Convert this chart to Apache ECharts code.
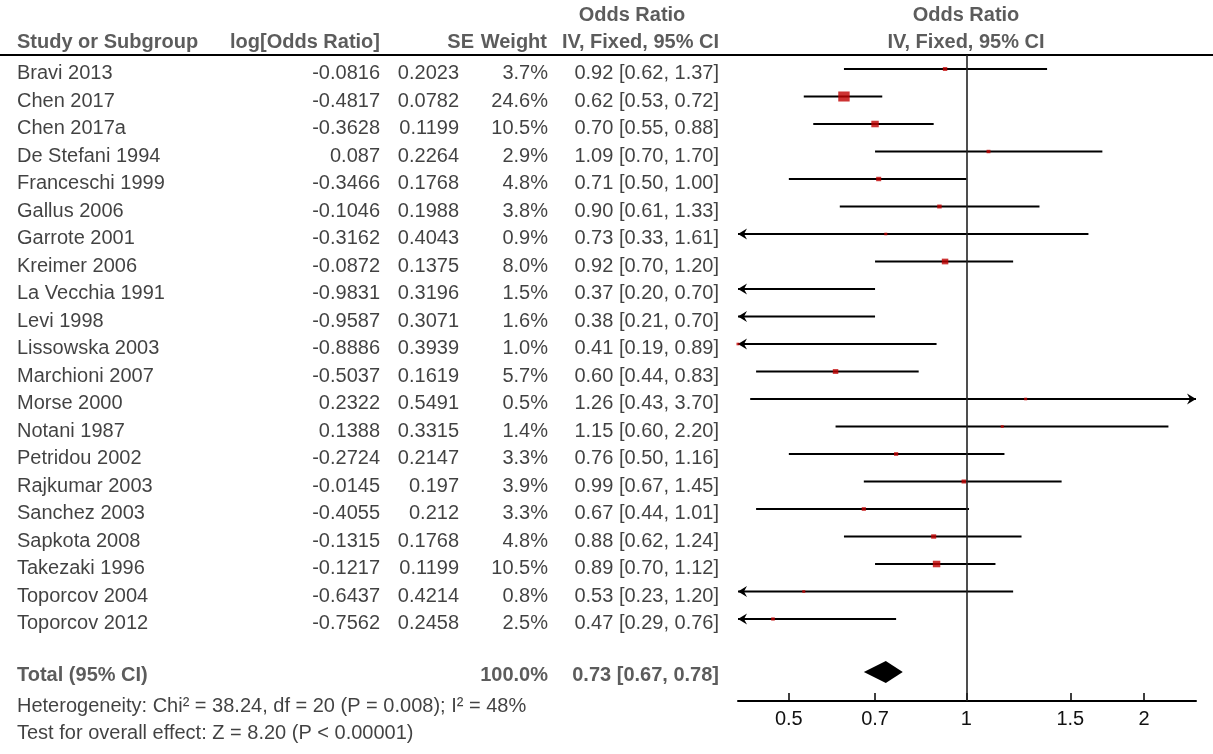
<!DOCTYPE html>
<html><head><meta charset="utf-8">
<script src="https://cdn.jsdelivr.net/npm/echarts@6/dist/echarts.min.js"></script>
<style>html,body{margin:0;padding:0;background:#fff}#c{width:1213px;height:754px}</style>
</head><body><div id="c"></div>
<script>
const studies = ['Bravi 2013','Chen 2017','Chen 2017a','De Stefani 1994','Franceschi 1999','Gallus 2006','Garrote 2001','Kreimer 2006','La Vecchia 1991','Levi 1998','Lissowska 2003','Marchioni 2007','Morse 2000','Notani 1987','Petridou 2002','Rajkumar 2003','Sanchez 2003','Sapkota 2008','Takezaki 1996','Toporcov 2004','Toporcov 2012'];
const logOR = [-0.0816,-0.4817,-0.3628,0.087,-0.3466,-0.1046,-0.3162,-0.0872,-0.9831,-0.9587,-0.8886,-0.5037,0.2322,0.1388,-0.2724,-0.0145,-0.4055,-0.1315,-0.1217,-0.6437,-0.7562];
const se = [0.2023,0.0782,0.1199,0.2264,0.1768,0.1988,0.4043,0.1375,0.3196,0.3071,0.3939,0.1619,0.5491,0.3315,0.2147,0.197,0.212,0.1768,0.1199,0.4214,0.2458];
const weight = [3.7,24.6,10.5,2.9,4.8,3.8,0.9,8.0,1.5,1.6,1.0,5.7,0.5,1.4,3.3,3.9,3.3,4.8,10.5,0.8,2.5];
const oddsRatio = [0.92,0.62,0.70,1.09,0.71,0.90,0.73,0.92,0.37,0.38,0.41,0.60,1.26,1.15,0.76,0.99,0.67,0.88,0.89,0.53,0.47];
const ciLow = [0.62,0.53,0.55,0.70,0.50,0.61,0.33,0.70,0.20,0.21,0.19,0.44,0.43,0.60,0.50,0.67,0.44,0.62,0.70,0.23,0.29];
const ciHigh = [1.37,0.72,0.88,1.70,1.00,1.33,1.61,1.20,0.70,0.70,0.89,0.83,3.70,2.20,1.16,1.45,1.01,1.24,1.12,1.20,0.76];
const total = {label:'Total (95% CI)', weight:100.0, or:0.73, low:0.67, high:0.78};
const heterogeneityText = 'Heterogeneity: Chi\u00B2 = 38.24, df = 20 (P = 0.008); I\u00B2 = 48%';
const overallText = 'Test for overall effect: Z = 8.20 (P < 0.00001)';
const axisTicks = [0.5, 0.7, 1, 1.5, 2];
const axisTickLabels = ['0.5','0.7','1','1.5','2'];
const headers = {study:'Study or Subgroup', logOR:'log[Odds Ratio]', se:'SE', weight:'Weight', or1:'Odds Ratio', or2:'IV, Fixed, 95% CI'};

const FONT = "'Liberation Sans', Arial, sans-serif";
const XMIN = 0.41, XMAX = 2.45;
const ROW0 = 69, STEP = 27.5;          // pixel of row 0 line, row spacing
const H = 754;
const idx = px => (px - ROW0) / STEP;   // pixel -> row index
const TOTAL_ROW = idx(672);

const fmt2 = v => v.toFixed(2);
const ciText = (o,l,h) => fmt2(o) + ' [' + fmt2(l) + ', ' + fmt2(h) + ']';

const TXT = 4.5/STEP;
function col(rows, pos, bold, color) {
  return {
    type:'scatter', xAxisIndex:1, yAxisIndex:1, symbolSize:0, silent:true, animation:false,
    data: rows,
    label:{show:true, position:pos, distance:0, formatter:p=>p.value[2],
      fontFamily:FONT, fontSize:20, fontWeight: bold?'bold':'normal', color: color || (bold?'#333':'#111')}
  };
}
const rowsY = studies.map((s,i)=> i + TXT);
const series = [];
series.push(col(studies.map((s,i)=>[17, rowsY[i], s]), 'right'));
series.push(col(logOR.map((v,i)=>[380, rowsY[i], String(v)]), 'left'));
series.push(col(se.map((v,i)=>[459, rowsY[i], String(v)]), 'left'));
series.push(col(weight.map((v,i)=>[548, rowsY[i], v.toFixed(1)+'%']), 'left'));
series.push(col(oddsRatio.map((v,i)=>[719, rowsY[i], ciText(v, ciLow[i], ciHigh[i])]), 'left'));
// headers
series.push(col([[17, idx(42), headers.study]], 'right', true));
series.push(col([[380, idx(42), headers.logOR],[474, idx(42), headers.se],[547, idx(42), headers.weight],[719, idx(42), headers.or2]], 'left', true));
series.push(col([[632, idx(15), headers.or1],[966, idx(15), headers.or1],[966, idx(42), headers.or2]], 'inside', true));
// total + footer
series.push(col([[17, idx(675), total.label]], 'right', true));
series.push(col([[548, idx(675), total.weight.toFixed(1)+'%'],[719, idx(675), ciText(total.or, total.low, total.high)]], 'left', true));
series.push(col([[17, idx(706), heterogeneityText],[17, idx(733), overallText]], 'right', false));

// CI lines with arrows
series.push({
  type:'custom', xAxisIndex:0, yAxisIndex:0, silent:true, animation:false, clip:false,
  data: studies.map((s,i)=>[i, ciLow[i], ciHigh[i]]),
  encode:{x:[1,2], y:0},
  renderItem:(params, api)=>{
    const i = api.value(0), lo = api.value(1), hi = api.value(2);
    const a = api.coord([Math.max(lo, XMIN), i]);
    const b = api.coord([Math.min(hi, XMAX), i]);
    const y = a[1];
    const ch = [{type:'line', shape:{x1:a[0], y1:y, x2:b[0], y2:y}, style:{stroke:'#000', lineWidth:2}}];
    if (lo < XMIN) ch.push({type:'polygon', shape:{points:[[a[0],y],[a[0]+9,y-5.5],[a[0]+6,y],[a[0]+9,y+5.5]]}, style:{fill:'#000'}});
    if (hi > XMAX) ch.push({type:'polygon', shape:{points:[[b[0],y],[b[0]-9,y-5.5],[b[0]-6,y],[b[0]-9,y+5.5]]}, style:{fill:'#000'}});
    return {type:'group', children:ch};
  }
});
// squares
series.push({
  type:'scatter', xAxisIndex:0, yAxisIndex:0, silent:true, animation:false, clip:true,
  symbol:'rect', z:3,
  data: oddsRatio.map((v,i)=>{const s=Math.max(3, 2.3*Math.sqrt(weight[i])); return {value:[v, i], symbolSize:[s, Math.max(2.5, s*0.88)]};}),
  itemStyle:{color:'#c00000'},
  markLine:{silent:true, symbol:'none', animation:false, label:{show:false},
    lineStyle:{color:'#222', width:1.6, type:'solid'}, data:[{xAxis:1}]}
});
// diamond
series.push({
  type:'custom', xAxisIndex:0, yAxisIndex:0, silent:true, animation:false, clip:false,
  data:[[total.low, total.or, total.high, TOTAL_ROW]],
  encode:{x:[0,1,2], y:3},
  renderItem:(params, api)=>{
    const r = api.value(3);
    const l = api.coord([api.value(0), r]), c = api.coord([api.value(1), r]), h = api.coord([api.value(2), r]);
    const hh = 11;
    return {type:'polygon', shape:{points:[[l[0], l[1]],[c[0], c[1]-hh],[h[0], h[1]],[c[0], c[1]+hh]]}, style:{fill:'#000'}};
  }
});

const option = {
  backgroundColor:'#fff',
  animation:false,
  grid:[
    {left:738, right:17, top:55, bottom:H-701},
    {left:0, right:0, top:0, bottom:0}
  ],
  xAxis:[
    {type:'log', logBase:10, gridIndex:0, min:XMIN, max:XMAX, position:'bottom',
      axisLine:{show:true, onZero:false, lineStyle:{color:'#000', width:2}},
      axisTick:{show:true, inside:true, length:8, lineStyle:{color:'#000', width:1.5}, customValues:axisTicks},
      axisLabel:{show:true, customValues:axisTicks, margin:8, fontFamily:FONT, fontSize:20, color:'#111',
        formatter:v=>{const k = axisTicks.findIndex(t=>Math.abs(t-v)<1e-6); return k>=0?axisTickLabels[k]:'';}},
      splitLine:{show:false}, minorTick:{show:false}},
    {type:'value', gridIndex:1, min:0, max:1213, show:false}
  ],
  yAxis:[
    {type:'value', gridIndex:0, min:idx(55), max:idx(701), inverse:true, show:false},
    {type:'value', gridIndex:1, min:idx(0), max:idx(H), inverse:true, show:false}
  ],
  graphic:[{type:'line', silent:true, shape:{x1:0, y1:55, x2:1213, y2:55}, style:{stroke:'#000', lineWidth:2}}],
  series: series
};
const chart = echarts.init(document.getElementById('c'));
chart.setOption(option);
</script></body></html>
